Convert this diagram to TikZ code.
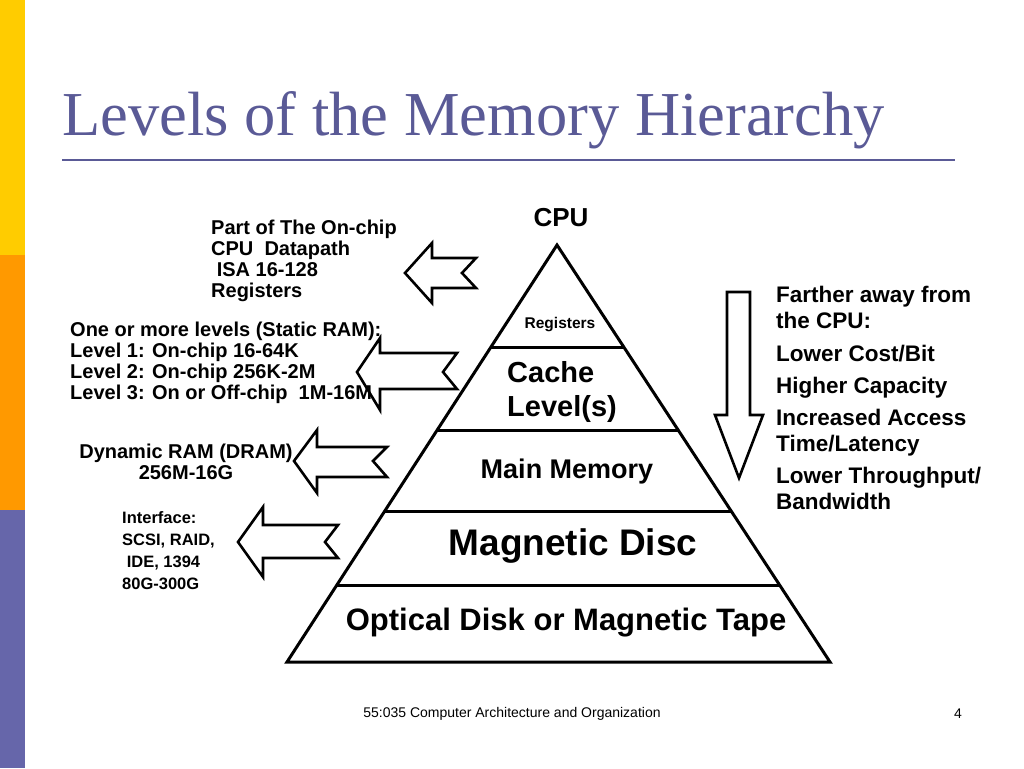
\documentclass[tikz,border=0pt]{standalone}
\usepackage{fontspec}
\setmainfont{Liberation Sans}
\newfontfamily\seriff{Liberation Serif}
\definecolor{ttl}{RGB}{90,90,150}
\definecolor{bary}{RGB}{255,204,0}
\definecolor{baro}{RGB}{255,153,0}
\definecolor{barp}{RGB}{102,102,170}
\begin{document}
\begin{tikzpicture}[x=1pt,y=-1pt,
  ln/.style={line width=3pt},
  arr/.style={line width=2.6pt,fill=white,line join=miter},
  lbl/.style={font=\bfseries\fontsize{20}{21}\selectfont,align=left,anchor=north west,inner sep=0pt},
  lvl/.style={font=\bfseries,inner sep=0pt}]
\useasboundingbox (0,0) rectangle (1024,768);
\fill[bary] (0,0) rectangle (25,255);
\fill[baro] (0,255) rectangle (25,510);
\fill[barp] (0,510) rectangle (25,768);
\node[font=\seriff\fontsize{62.5}{64}\selectfont,text=ttl,anchor=west,inner sep=0pt] (title) at (62,120) {Levels of the Memory Hierarchy};
\draw[ttl,line width=2pt] (62,160) coordinate (l1) -- (955,160) coordinate (l2);
% pyramid
\coordinate (ap) at (557,245); \coordinate (bl) at (287,662); \coordinate (br) at (830,662);
\draw[ln,line join=miter] (ap) -- (bl) -- (br) -- cycle;
\foreach \y in {347,430,511,585}{
  \draw[ln] ({557-0.6475*(\y-245)},\y) -- ({557+0.6547*(\y-245)},\y);}
\node[lvl,font=\bfseries\fontsize{26}{28}\selectfont] (cpu) at (561,218) {CPU};
\node[lvl,font=\bfseries\fontsize{15.5}{17}\selectfont] (reg) at (560,325) {Registers};
\node[lvl,font=\bfseries\fontsize{29}{34}\selectfont,align=left] (cache) at (562,392) {Cache\\Level(s)};
\node[lvl,font=\bfseries\fontsize{27}{29}\selectfont] (mm) at (567,472) {Main Memory};
\node[lvl,font=\bfseries\fontsize{37}{39}\selectfont] (md) at (573,546) {Magnetic Disc};
\node[lvl,font=\bfseries\fontsize{31}{33}\selectfont] (od) at (566,623) {Optical Disk or Magnetic Tape};
% left arrows
\foreach \tx/\ty/\bx/\ht/\hb/\st/\sb/\ex/\nx in {
  405/273/432/243/303/258/288/476/462,
  357/372/380/338/410/353/389/457/443,
  294/461/317/430/493/447/477/387/373,
  238/542/263/507/577/525/558/338/325}{
  \draw[arr] (\tx,\ty) -- (\bx,\ht) -- (\bx,\st) -- (\ex,\st) -- (\nx,\ty) -- (\ex,\sb) -- (\bx,\sb) -- (\bx,\hb) -- cycle;}
% down arrow
\draw[arr] (727,292) -- (750,292) -- (750,415) -- (763,415) -- (739,478) -- (715,415) -- (727,415) -- cycle;
% texts
\node[lbl] (t1) at (211,220) {Part of The On-chip\\CPU\ \ Datapath\\\ ISA 16-128\\Registers};
\node[lbl] (t2) at (70,322) {One or more levels (Static RAM):\\Level 1: On-chip 16-64K\\Level 2: On-chip 256K-2M\\Level 3: On or Off-chip\ \ 1M-16M};
\node[lbl,align=center,anchor=north] (t3) at (186,444) {Dynamic RAM (DRAM)\\256M-16G};
\node[lbl,font=\bfseries\fontsize{16.5}{22}\selectfont] (t4) at (122,511) {Interface:\\SCSI, RAID,\\\ IDE, 1394\\80G-300G};
\node[lbl,font=\bfseries\fontsize{22.5}{26}\selectfont] (t5) at (776,286) {Farther away from\\the CPU:};
\node[lbl,font=\bfseries\fontsize{22.5}{26}\selectfont] (t6) at (776,345) {Lower Cost/Bit\\[6pt]Higher Capacity\\[6pt]Increased Access\\Time/Latency\\[6pt]Lower Throughput/\\Bandwidth};
\node[font=\fontsize{14}{16}\selectfont] (ft) at (512,714) {55:035 Computer Architecture and Organization};
\node[font=\fontsize{14}{16}\selectfont] (pg) at (958,714) {4};
\end{tikzpicture}
\end{document}
